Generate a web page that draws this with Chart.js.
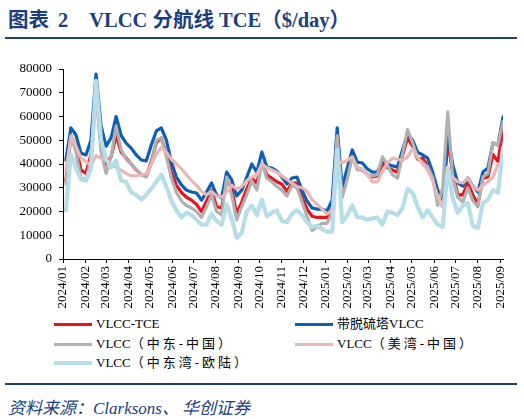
<!DOCTYPE html>
<html>
<head>
<meta charset="utf-8">
<script src="https://cdn.jsdelivr.net/npm/chart.js@4.4.1/dist/chart.umd.min.js"></script>
<style>
    body { margin: 0; background: #fff; }
    #wrap { position: relative; width: 524px; height: 419px; overflow: hidden; font-family: "Liberation Serif", "Noto Sans CJK SC", serif; }
    #title { position: absolute; left: 8px; top: 3px; font-size: 20.5px; font-weight: bold; color: #1c3f7c; white-space: nowrap; }
    .rule { position: absolute; left: 5px; width: 512px; background: #1c3f7c; }
    #chart { position: absolute; left: 0; top: 0; }
    #legend div.item { position: absolute; font-size: 13px; color: #000; white-space: nowrap; height: 16px; line-height: 16px; }
    #legend span.swatch { position: absolute; left: 0; width: 38px; }
    #legend span.wide { letter-spacing: 3px; }
    #source { position: absolute; left: 8px; top: 394px; font-size: 17px; font-style: italic; color: #1c3f7c; white-space: nowrap; }
</style>
</head>
<body>
<div id="wrap">
    <div id="title">图表<span style="margin-left:9px">2</span><span style="margin-left:21px">VLCC 分航线 TCE（$/day）</span></div>
    <div class="rule" style="top:37px;height:2px"></div>
    <canvas id="chart" width="524" height="315"></canvas>
    <div id="legend"></div>
    <div class="rule" style="top:383px;height:2px"></div>
    <div id="source">资料来源：Clarksons、<span style="margin-left:3px">华创证券</span></div>
</div>
<script>
// weekly readings, first week 2024-01-05
const tickLabels = ['2024/01', '2024/02', '2024/03', '2024/04', '2024/05', '2024/06', '2024/07',
    '2024/08', '2024/09', '2024/10', '2024/11', '2024/12', '2025/01', '2025/02', '2025/03',
    '2025/04', '2025/05', '2025/06', '2025/07', '2025/08', '2025/09'];

const seriesNames = ['VLCC-TCE', '带脱硫塔VLCC', 'VLCC（中东-中国）', 'VLCC（美湾-中国）', 'VLCC（中东湾-欧陆）'];

const vlccTce = [33000, 52000, 47000, 37500, 36000, 44000, 72000, 48000, 40000, 43000,
    52000, 45000, 42500, 40000, 37500, 35500, 35000, 41000, 49000, 51000,
    44000, 36500, 31000, 28000, 26000, 24800, 23000, 20000, 24500, 29000,
    22000, 21500, 33500, 29500, 19000, 24000, 29500, 34000, 32000, 40000,
    35500, 34000, 32500, 31500, 28500, 32000, 32000, 26000, 21000, 18000,
    17500, 17500, 17500, 21000, 52000, 28000, 36000, 43000, 38500, 37500,
    35500, 34500, 35000, 40000, 38500, 37500, 36500, 43500, 51000, 47500,
    42000, 42500, 39500, 34000, 27000, 22000, 50000, 36000, 27000, 27000,
    32000, 27000, 23000, 34000, 34500, 44000, 41000, 55000];

const scrubberVlcc = [41700, 55200, 52200, 44600, 43800, 50100, 77900, 56000, 47500, 51000,
    60000, 52000, 48800, 46700, 43800, 41700, 41300, 48000, 53900, 55200,
    50100, 40800, 34500, 31200, 29000, 28200, 27800, 24800, 28200, 32000,
    26900, 25700, 36600, 33300, 26500, 29000, 34500, 40000, 36600, 45000,
    38700, 38300, 37000, 34500, 31600, 34100, 34500, 29000, 24400, 21500,
    21000, 21000, 20200, 24800, 55200, 30000, 38300, 45900, 40800, 40400,
    37900, 36600, 36600, 41300, 40000, 39200, 38700, 45900, 52600, 50100,
    45000, 43800, 42500, 36600, 29000, 24000, 52200, 39600, 32000, 30700,
    34100, 30700, 28200, 36600, 38300, 48800, 48000, 59800];

const megChina = [31500, 52000, 45000, 34000, 33500, 42000, 70000, 45000, 36000, 43000,
    56000, 46000, 42000, 40000, 37500, 35500, 34500, 40000, 50000, 51000,
    43000, 34000, 28000, 24500, 22500, 21500, 20000, 17500, 22000, 27000,
    20000, 18500, 34500, 27000, 16500, 22000, 27000, 33000, 29000, 40500,
    34000, 32500, 30500, 29000, 26500, 31000, 30000, 24000, 18000, 12000,
    13500, 15000, 15000, 19500, 52000, 26000, 33500, 43000, 37500, 37500,
    35500, 35000, 35500, 43000, 39500, 35500, 34000, 44000, 54500, 49000,
    42500, 40500, 39000, 34500, 22500, 30000, 62000, 34000, 26000, 24000,
    30000, 24500, 22000, 34500, 36000, 49000, 48000, 58000];

const usgChina = [37000, 51500, 47500, 42500, 41000, 39500, 43500, 42500, 41500, 40000,
    38500, 37500, 36000, 35000, 35000, 35500, 36000, 40000, 44000, 47000,
    45000, 42000, 40000, 38000, 35500, 33000, 31000, 28500, 27000, 28500,
    26500, 26000, 28000, 31000, 29500, 30500, 33000, 34500, 35500, 40000,
    38500, 37500, 36500, 35000, 33500, 32000, 30500, 30000, 28500, 25000,
    23000, 21000, 19000, 20500, 41000, 40500, 41500, 43000, 38500, 38000,
    35500, 32500, 32500, 37000, 40500, 42500, 42000, 41500, 43000, 46500,
    43000, 40000, 37500, 33000, 26500, 22000, 36000, 34500, 32500, 32000,
    34000, 30500, 29000, 31000, 32500, 34500, 40000, null];

const megEurope = [20500, 44000, 38500, 33500, 33000, 38000, 75000, 50000, 42000, 38500,
    41500, 33000, 32500, 28000, 27000, 25000, 27000, 29500, 32500, 35500,
    30500, 24500, 20500, 17500, 19500, 18500, 16500, 14500, 14500, 19000,
    16000, 14500, 23000, 17000, 9000, 11000, 20000, 22500, 18500, 25000,
    18000, 19500, 20500, 16000, 15500, 19000, 20500, 18500, 15500, 13500,
    14000, 12500, 11500, 11500, 46000, 15500, 18500, 22500, 17500, 17500,
    16500, 17000, 17500, 14500, 20000, 19500, 18500, 21500, 29500, 28000,
    22000, 17500, 20500, 17500, 14500, 13500, 38500, 25500, 19500, 22500,
    23500, 14000, 13000, 23500, 25000, 29000, 28000, 47000];

const DAY = 86400000;
const origin = Date.UTC(2024, 0, 1);
const firstWeek = (Date.UTC(2024, 0, 5) - origin) / DAY;
const weekDays = vlccTce.map((_, i) => firstWeek + i * 7);
const monthDays = tickLabels.map(t => {
    const [y, m] = t.split('/').map(Number);
    return (Date.UTC(y, m - 1, 1) - origin) / DAY;
});

function toPoints(values) {
    return values.map((v, i) => ({ x: weekDays[i], y: v }));
}

const colors = ['#e8141c', '#0b5fb5', '#b0b0b0', '#e8b7b6', '#b6dde8'];
const widths = [3.2, 3.2, 3.2, 3.2, 4.2];
const allSeries = [vlccTce, scrubberVlcc, megChina, usgChina, megEurope];

const datasets = allSeries.map((values, i) => ({
    label: seriesNames[i],
    data: toPoints(values),
    borderColor: colors[i],
    backgroundColor: colors[i],
    borderWidth: widths[i],
    pointRadius: 0,
    tension: 0,
    borderJoinStyle: 'round',
    borderCapStyle: 'round',
    spanGaps: false,
    order: allSeries.length - i
}));

const axisFont = { family: '"Liberation Serif", "Times New Roman", serif', size: 13 };

new Chart(document.getElementById('chart'), {
    type: 'line',
    data: { datasets },
    options: {
        responsive: false,
        animation: false,
        layout: { padding: { top: 69, right: 21, left: 0, bottom: 0 } },
        plugins: { legend: { display: false }, tooltip: { enabled: false } },
        scales: {
            x: {
                type: 'linear',
                min: 0,
                max: weekDays[weekDays.length - 1],
                afterBuildTicks: scale => { scale.ticks = monthDays.map(v => ({ value: v })); },
                afterFit: scale => { scale.height = 315 - 259; },
                ticks: {
                    autoSkip: false,
                    maxRotation: 90,
                    minRotation: 90,
                    padding: 3,
                    color: '#000',
                    font: axisFont,
                    callback: (value, index) => tickLabels[index]
                },
                grid: { drawOnChartArea: false, drawTicks: true, tickLength: 4, color: '#000' },
                border: { color: '#000', width: 1 }
            },
            y: {
                min: 0,
                max: 80000,
                afterFit: scale => { scale.width = 63; },
                ticks: { stepSize: 10000, padding: 7, color: '#000', font: axisFont, callback: v => String(v) },
                grid: { drawOnChartArea: false, drawTicks: true, tickLength: 4, color: '#000' },
                border: { color: '#000', width: 1 }
            }
        }
    }
});

// two-column legend under the axis labels
const legend = document.getElementById('legend');
const legendSpots = [[54, 316], [295, 316], [54, 336], [295, 336], [54, 355]];
seriesNames.forEach((name, i) => {
    const item = document.createElement('div');
    item.className = 'item';
    item.style.left = legendSpots[i][0] + 'px';
    item.style.top = legendSpots[i][1] + 'px';
    item.style.paddingLeft = '42px';
    const h = i === 4 ? 4 : 3;
    const cut = name.indexOf('（');
    const text = cut < 0 ? name : `${name.slice(0, cut)}<span class="wide">${name.slice(cut)}</span>`;
    item.innerHTML = `<span class="swatch" style="background:${colors[i]};height:${h}px;top:${8 - h / 2}px"></span>${text}`;
    legend.appendChild(item);
});
</script>
</body>
</html>
